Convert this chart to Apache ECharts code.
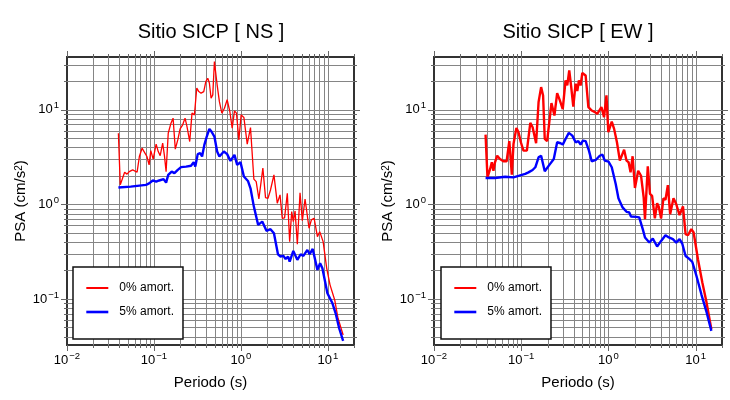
<!DOCTYPE html>
<html><head><meta charset="utf-8">
<script src="https://cdn.jsdelivr.net/npm/echarts@6/dist/echarts.min.js"></script>
<style>html,body{margin:0;padding:0;background:#fff}#c{width:730px;height:400px}</style>
</head><body><div id="c"></div>
<script>
const titles = ['Sitio SICP [ NS ]', 'Sitio SICP [ EW ]'];
const seriesNames = ['0% amort.', '5% amort.'];
const xAxisName = 'Periodo (s)';
const yAxisName = 'PSA (cm/s{s|2})';

// NS component
const nsPeriod0 = [0.039,0.041,0.043,0.046,0.049,0.052,0.057,0.060,0.064,0.068,0.073,0.077,0.083,0.088,0.092,0.098,0.106,0.112,0.118,0.126,0.132,0.138,0.146,0.157,0.166,0.176,0.188,0.200,0.214,0.228,0.240,0.258,0.274,0.292,0.311,0.328,0.348,0.374,0.395,0.416,0.434,0.454,0.475,0.496,0.533,0.566,0.604,0.647,0.695,0.746,0.794,0.844,0.890,0.948,1.007,1.083,1.183,1.29,1.41,1.50,1.61,1.79,1.92,2.05,2.19,2.40,2.62,2.82,2.99,3.18,3.42,3.64,3.84,4.01,4.20,4.46,4.79,5.09,5.47,6.08,6.47,6.95,7.59,8.07,8.83,9.71,10.6,12.0,13.1,15.0];
const nsPsa0 = [5.66,1.61,1.67,2.19,2.09,2.22,2.32,2.32,2.19,3.21,3.93,3.62,3.21,2.62,3.71,3.01,4.34,3.62,3.28,4.44,3.28,2.22,5.66,7.23,8.17,3.84,4.81,6.29,6.94,8.17,6.65,4.62,9.23,8.85,17.0,15.6,15.0,15.6,19.9,21.6,19.2,13.3,14.4,32.4,18.4,12.2,9.23,10.4,12.8,9.6,6.40,9.76,9.23,4.81,8.85,8.29,4.34,6.50,1.85,1.74,1.14,2.42,1.18,1.16,1.42,2.05,1.03,1.26,0.714,0.72,1.31,0.404,0.839,0.658,0.853,0.379,1.33,0.674,1.14,0.56,0.686,0.714,0.456,0.515,0.404,0.211,0.141,0.0976,0.0625,0.0416];
const nsPeriod5 = [0.039,0.054,0.081,0.088,0.097,0.106,0.115,0.129,0.138,0.146,0.160,0.172,0.188,0.205,0.234,0.267,0.287,0.299,0.319,0.340,0.358,0.380,0.405,0.434,0.458,0.496,0.533,0.566,0.637,0.695,0.759,0.844,0.906,0.989,1.083,1.205,1.29,1.41,1.58,1.76,1.97,2.19,2.40,2.67,2.86,3.07,3.27,3.49,3.64,4.01,4.46,4.87,5.23,5.82,6.18,6.70,7.59,8.15,8.66,9.89,11.3,12.3,13.5,15.0];
const nsPsa5 = [1.51,1.54,1.61,1.67,1.79,1.74,1.79,1.85,1.70,2.05,2.22,2.14,2.32,2.48,2.51,2.56,2.80,2.51,3.40,3.48,3.21,4.26,5.22,6.29,5.9,5.22,3.62,3.21,3.62,3.40,2.88,3.34,2.62,2.80,1.97,1.77,1.48,0.948,0.607,0.658,0.525,0.547,0.495,0.297,0.281,0.287,0.265,0.281,0.248,0.322,0.259,0.297,0.285,0.330,0.297,0.338,0.203,0.239,0.211,0.115,0.090,0.0706,0.049,0.036];

// EW component
const ewPeriod0 = [0.039,0.041,0.044,0.046,0.048,0.050,0.053,0.057,0.0625,0.068,0.073,0.078,0.0815,0.088,0.093,0.099,0.106,0.116,0.127,0.135,0.148,0.158,0.169,0.178,0.186,0.198,0.222,0.240,0.258,0.277,0.299,0.322,0.337,0.355,0.374,0.395,0.420,0.439,0.458,0.479,0.501,0.547,0.588,0.642,0.700,0.743,0.830,0.889,0.948,0.995,1.09,1.16,1.25,1.35,1.42,1.51,1.61,1.70,1.79,1.89,2.01,2.19,2.36,2.53,2.62,2.82,2.99,3.16,3.40,3.61,3.77,4.01,4.26,4.50,4.79,5.09,5.56,5.97,6.52,7.14,7.65,8.15,8.90,9.46,10.6,11.9,13.2,15.1];
const ewPsa0 = [5.47,1.93,2.37,2.79,2.27,2.79,3.27,3.02,2.86,2.86,4.66,2.06,4.36,6.44,5.80,4.54,3.70,3.70,7.28,6.55,4.43,12.1,17.4,14.2,4.92,4.66,11.8,8.71,15.0,12.6,10.2,20.5,18.1,26.1,17.4,10.8,18.9,15.8,20.5,18.1,24.5,23.1,10.7,9.83,9.45,9.07,10.7,8.37,14.2,5.80,7.52,6.29,4.54,2.90,2.79,3.79,2.90,2.79,2.18,3.23,1.49,2.27,2.01,1.19,0.698,2.53,1.29,1.23,0.711,1.03,0.944,0.711,1.16,1.12,1.60,0.789,1.16,1.01,0.77,0.953,0.484,0.472,0.547,0.505,0.263,0.149,0.095,0.048];
const ewPeriod5 = [0.039,0.050,0.0654,0.0815,0.093,0.111,0.121,0.135,0.145,0.158,0.169,0.186,0.207,0.236,0.258,0.282,0.299,0.322,0.351,0.385,0.420,0.451,0.479,0.509,0.547,0.597,0.642,0.714,0.794,0.853,0.906,1.0,1.09,1.21,1.30,1.45,1.61,1.73,1.81,1.89,2.07,2.25,2.47,2.62,2.94,3.22,3.61,4.01,4.50,4.92,5.47,5.97,6.52,7.0,7.65,8.37,9.14,10.2,11.6,13.2,15.1];
const ewPsa5 = [1.90,1.90,1.96,1.93,2.0,2.10,2.18,2.31,2.47,3.15,3.27,2.24,2.57,3.02,4.54,4.43,4.29,4.92,5.70,5.34,4.54,4.66,4.29,4.72,4.66,3.70,2.86,2.95,3.27,3.36,2.90,2.83,2.47,1.64,1.16,0.929,0.835,0.822,0.746,0.77,0.739,0.728,0.547,0.447,0.395,0.436,0.359,0.411,0.472,0.447,0.429,0.395,0.429,0.386,0.285,0.267,0.246,0.175,0.112,0.0745,0.046];

// Axis ranges and grid-line positions (tick values)
const xMin = 0.01, xMax = 20, yMin = 0.0326, yMax = 36.2;
const decades = [0.01, 0.1, 1, 10];
const mantissas = [1, 2, 3, 4, 5, 6, 7, 8, 9];

function zip(a, b) { return a.map((v, i) => [v, b[i]]); }
function gridValues(lo, hi) {
  const out = [];
  decades.forEach(d => mantissas.forEach(m => {
    const v = +(d * m).toPrecision(3);
    if (v >= lo * 0.9999 && v <= hi * 1.0001) out.push([v, m === 1 ? 1 : 0]);
  }));
  return out;
}
const xGrid = gridValues(xMin, xMax);
const yGrid = gridValues(yMin, yMax);
const gridData = [];
xGrid.forEach(([v, maj]) => gridData.push([v, yMin, 0, maj, (Math.abs(v - xMin) < 1e-9 || Math.abs(v - xMax) < 1e-9) ? 1 : 0]));
yGrid.forEach(([v, maj]) => gridData.push([xMin, v, 1, maj, 0]));

function renderGrid(params, api) {
  const cs = params.coordSys;
  const o = api.value(2), maj = api.value(3), edge = api.value(4);
  const L = maj ? 6 : 3;
  const gs = { stroke: '#858585', lineWidth: 1 };
  const ts = { stroke: '#666', lineWidth: 1 };
  const ch = [];
  const p = api.coord([api.value(0), api.value(1)]);
  if (o === 0) {
    const px = Math.round(p[0]) + 0.5, t = cs.y, b = cs.y + cs.height;
    if (!edge) ch.push({ type: 'line', shape: { x1: px, y1: t, x2: px, y2: b }, style: gs });
    ch.push({ type: 'line', shape: { x1: px, y1: t - L, x2: px, y2: t }, style: ts });
    ch.push({ type: 'line', shape: { x1: px, y1: b, x2: px, y2: b + L }, style: ts });
  } else {
    const py = Math.round(p[1]) + 0.5, l = cs.x, r = cs.x + cs.width;
    ch.push({ type: 'line', shape: { x1: l, y1: py, x2: r, y2: py }, style: gs });
    ch.push({ type: 'line', shape: { x1: l - L, y1: py, x2: l, y2: py }, style: ts });
    ch.push({ type: 'line', shape: { x1: r, y1: py, x2: r + L, y2: py }, style: ts });
  }
  return { type: 'group', children: ch };
}

function expLabel(v) {
  const e = Math.log10(v), r = Math.round(e);
  if (Math.abs(e - r) > 1e-6) return '';
  return '{b|10}{s|' + (r < 0 ? '\u2212' + (-r) : r) + '}';
}
const labelRich = {
  b: { fontSize: 13, color: '#000', lineHeight: 18 },
  s: { fontSize: 9.5, color: '#000', verticalAlign: 'top', padding: [0, 0, 0, 1] }
};
const font = 'Liberation Sans, Arial, Helvetica, sans-serif';

const grids = [
  { left: 67, top: 57, width: 287, height: 288 },
  { left: 434, top: 57, width: 288, height: 288 }
];
const titleCenters = [211, 578];
const legendPos = [[73, 267], [441, 267]];
const redWidths = [1.3, 2.4];

function xAxisOf(i) {
  return {
    gridIndex: i, type: 'log', logBase: 10, min: xMin, max: xMax,
    axisLine: { show: false }, axisTick: { show: false }, splitLine: { show: false },
    axisLabel: { formatter: expLabel, rich: labelRich, margin: 6, interval: 0, color: '#000' },
    name: xAxisName, nameLocation: 'middle', nameGap: 30,
    nameTextStyle: { fontSize: 15, color: '#000' }
  };
}
function yAxisOf(i) {
  return {
    gridIndex: i, type: 'log', logBase: 10, min: yMin, max: yMax,
    axisLine: { show: false }, axisTick: { show: false }, splitLine: { show: false },
    axisLabel: { formatter: expLabel, rich: labelRich, margin: 8, interval: 0, color: '#000' },
    name: yAxisName, nameLocation: 'middle', nameGap: 38, nameRotate: 90,
    nameTextStyle: { fontSize: 15, color: '#000', rich: { s: { fontSize: 10, color: '#000', verticalAlign: 'top' } } }
  };
}

const dataSets = [
  [zip(nsPeriod0, nsPsa0), zip(nsPeriod5, nsPsa5)],
  [zip(ewPeriod0, ewPsa0), zip(ewPeriod5, ewPsa5)]
];

const series = [];
[0, 1].forEach(i => {
  series.push({ type: 'custom', name: 'grid' + i, xAxisIndex: i, yAxisIndex: i, data: gridData, renderItem: renderGrid, silent: true, z: 1, clip: false });
  series.push({ type: 'line', name: seriesNames[0], xAxisIndex: i, yAxisIndex: i, data: dataSets[i][0], symbol: 'none', lineStyle: { color: '#ff0000', width: redWidths[i] }, itemStyle: { color: '#ff0000' }, z: 3, animation: false });
  series.push({ type: 'line', name: seriesNames[1], xAxisIndex: i, yAxisIndex: i, data: dataSets[i][1], symbol: 'none', lineStyle: { color: '#0000ff', width: 2.4 }, itemStyle: { color: '#0000ff' }, z: 3, animation: false });
});

const option = {
  animation: false,
  backgroundColor: '#fff',
  textStyle: { fontFamily: font },
  title: [0, 1].map(i => ({
    text: titles[i], left: titleCenters[i], top: 22, textAlign: 'center', padding: 0,
    textStyle: { fontSize: 20, fontWeight: 'normal', color: '#000', fontFamily: font }
  })),
  grid: grids.map(g => Object.assign({ show: true, borderColor: '#333', borderWidth: 2, containLabel: false }, g)),
  xAxis: [xAxisOf(0), xAxisOf(1)],
  yAxis: [yAxisOf(0), yAxisOf(1)],
  legend: [0, 1].map(i => ({
    left: legendPos[i][0], top: legendPos[i][1], orient: 'vertical',
    padding: [15, 9, 21, 12], itemGap: 12, itemWidth: 22, itemHeight: 14,
    borderColor: '#111', borderWidth: 1.5, backgroundColor: '#fff', borderRadius: 0,
    selectedMode: false,
    itemStyle: { opacity: 0, color: 'rgba(0,0,0,0)', borderWidth: 0 },
    textStyle: { fontSize: 12, color: '#000', padding: [0, 0, 0, 6], fontFamily: font },
    data: [
      { name: seriesNames[0], lineStyle: { width: 2, color: '#ff0000', opacity: 1 }, itemStyle: { opacity: 0, color: 'rgba(0,0,0,0)', borderWidth: 0 } },
      { name: seriesNames[1], lineStyle: { width: 2.6, color: '#0000ff', opacity: 1 }, itemStyle: { opacity: 0, color: 'rgba(0,0,0,0)', borderWidth: 0 } }
    ]
  })),
  series: series
};
const chart = echarts.init(document.getElementById('c'), null, { renderer: 'canvas' });
chart.setOption(option);
</script></body></html>
